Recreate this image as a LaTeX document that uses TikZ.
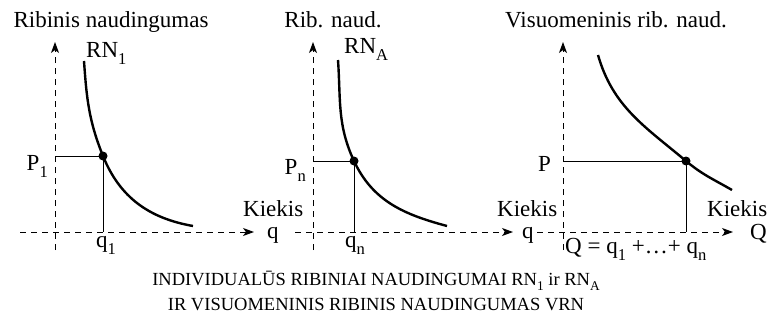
\documentclass[tikz,border=0pt]{standalone}
\usepackage{fontspec}
\setmainfont{Liberation Serif}
\usetikzlibrary{arrows.meta}
\newcommand{\lo}[1]{\raisebox{-0.32em}{\scalebox{0.72}{#1}}}

\begin{document}
\begin{tikzpicture}[x=1pt,y=1pt,
  axis/.style={line width=0.9pt, dash pattern=on 6pt off 5pt,
    -{Stealth[length=11pt,width=8pt,inset=3pt]}},
  guide/.style={line width=0.9pt},
  curve/.style={line width=2.4pt},
  dot/.style={circle, fill, inner sep=0pt, minimum size=9pt},
  lbl/.style={inner sep=0pt, font=\fontsize{23}{26}\selectfont},
  captxt/.style={inner sep=0pt, font=\fontsize{18.5}{22}\selectfont}]
\useasboundingbox (0,0) rectangle (769,325);

% first panel: one person
\coordinate (o1) at (55,93);
\coordinate (y1a) at (55,75);
\coordinate (y1b) at (55,283);
\coordinate (x1a) at (20,93);
\coordinate (x1b) at (254,93);
\node[dot] (pt1) at (103,169) {};
\coordinate (c1a) at (84,264);
\coordinate (c1b) at (193,99);
\node[lbl, anchor=base] (tit1) at (111,298) {Ribinis naudingumas};
\node[lbl, anchor=base west] (rn1) at (86,268) {RN\lo{1}};
\node[lbl, anchor=base east] (p1) at (48,155) {P\lo{1}};
\node[lbl, anchor=base west] (q1) at (96,78) {q\lo{1}};
\node[lbl, anchor=base west] (kx1) at (243,109) {Kiekis};
\node[lbl, anchor=base west] (qx1) at (267,87) {q};

\draw[axis] (y1a) -- (y1b);
\draw[axis] (x1a) -- (x1b);
\draw[guide] (pt1.center) -- (pt1.center -| o1);
\draw[guide] (pt1.center) -- (pt1.center |- o1);
\draw[curve] (c1a) to[out=-86,in=112] (pt1.center) to[out=-68,in=170] (c1b);

% second panel: another person
\coordinate (o2) at (313,93);
\coordinate (y2a) at (313,75);
\coordinate (y2b) at (313,283);
\coordinate (x2a) at (295,93);
\coordinate (x2b) at (513,93);
\node[dot] (pt2) at (354,164) {};
\coordinate (c2a) at (338,265);
\coordinate (c2b) at (447,99);
\node[lbl, anchor=base] (tit2) at (333,298) {Rib. naud.};
\node[lbl, anchor=base west] (rna) at (344,272) {RN\lo{A}};
\node[lbl, anchor=base east] (pn) at (306,151) {P\lo{n}};
\node[lbl, anchor=base west] (qn) at (345,78) {q\lo{n}};
\node[lbl, anchor=base west] (kx2) at (497,109) {Kiekis};
\node[lbl, anchor=base west] (qx2) at (522,87) {q};

\draw[axis] (y2a) -- (y2b);
\draw[axis] (x2a) -- (x2b);
\draw[guide] (pt2.center) -- (pt2.center -| o2);
\draw[guide] (pt2.center) -- (pt2.center |- o2);
\draw[curve] (c2a) to[out=-86,in=115] (pt2.center) to[out=-65,in=165] (c2b);

% third panel: society
\coordinate (o3) at (563,93);
\coordinate (y3a) at (563,75);
\coordinate (y3b) at (563,283);
\coordinate (x3a) at (537,93);
\coordinate (x3b) at (733,93);
\node[dot] (pt3) at (686,164) {};
\coordinate (c3a) at (598,270);
\coordinate (c3b) at (732,135);
\node[lbl, anchor=base] (tit3) at (616,298) {Visuomeninis rib. naud.};
\node[lbl, anchor=base east] (pp) at (551,154) {P};
\node[lbl, anchor=base west] (qsum) at (565,72) {Q = q\lo{1} +\ldots+ q\lo{n}};
\node[lbl, anchor=base west] (kx3) at (707,109) {Kiekis};
\node[lbl, anchor=base west] (qx3) at (750,86) {Q};

\draw[axis] (y3a) -- (y3b);
\draw[axis] (x3a) -- (x3b);
\draw[guide] (pt3.center) -- (pt3.center -| o3);
\draw[guide] (pt3.center) -- (pt3.center |- o3);
\draw[curve] (c3a) to[out=-74,in=140] (pt3.center) to[out=-40,in=150] (c3b);

% caption
\node[captxt, anchor=base] (cap1) at (376,40)
  {INDIVIDUALŪS RIBINIAI NAUDINGUMAI RN\lo{1} ir RN\lo{A}};
\node[captxt, anchor=base] (cap2) at (376,15)
  {IR VISUOMENINIS RIBINIS NAUDINGUMAS VRN};
\end{tikzpicture}
\end{document}
